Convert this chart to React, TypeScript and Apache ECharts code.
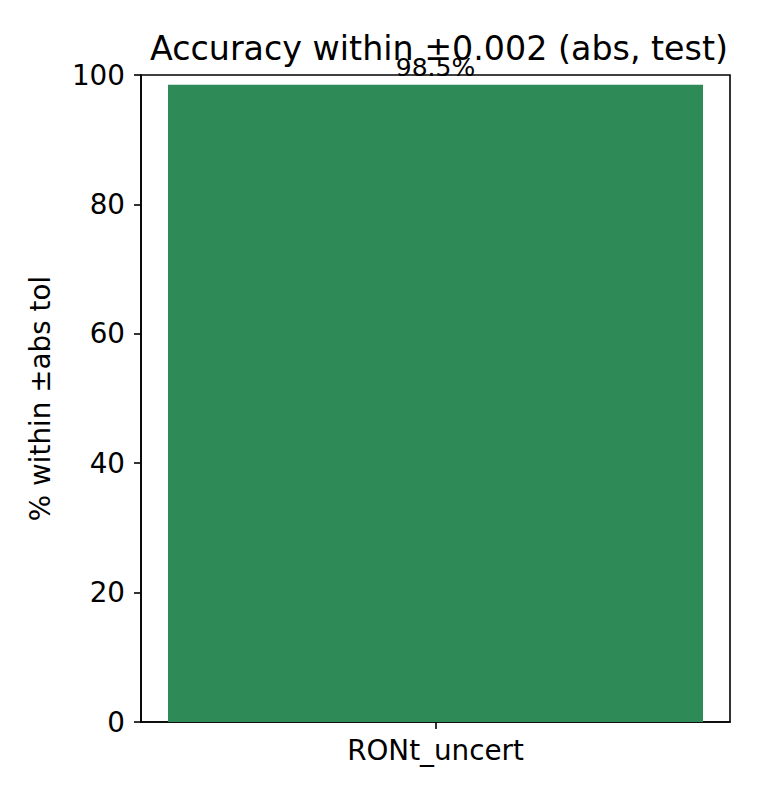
import React, { useEffect, useRef } from "react";
import * as echarts from "echarts";

const categories = ["RONt_uncert"];
const values = [98.5];
const yTicks = [0, 20, 40, 60, 80, 100];

export default function App() {
  const ref = useRef<HTMLDivElement>(null);
  useEffect(() => {
    if (!ref.current) return;
    const chart = echarts.init(ref.current, undefined, { renderer: "svg" });
    const font = "DejaVu Sans";
    chart.setOption({
      animation: false,
      backgroundColor: "#ffffff",
      title: {
        text: "Accuracy within ±0.002 (abs, test)",
        left: 434,
        textAlign: "center",
        top: 27,
        textStyle: { fontFamily: font, fontSize: 33.3, fontWeight: "normal", color: "#000" },
      },
      grid: {
        left: 141,
        top: 75,
        width: 589,
        height: 647,
        show: true,
        borderColor: "#000",
        borderWidth: 1.6,
        backgroundColor: "transparent",
      },
      xAxis: {
        type: "category",
        data: categories,
        axisLine: { show: true, lineStyle: { color: "#000", width: 1.6 } },
        axisTick: { show: true, alignWithLabel: true, length: 7, lineStyle: { color: "#000", width: 1.6 } },
        axisLabel: { fontFamily: font, fontSize: 27.8, color: "#000", margin: 14 },
      },
      yAxis: {
        type: "value",
        min: 0,
        max: 100,
        interval: 20,
        name: "% within ±abs tol",
        nameLocation: "middle",
        nameGap: 87,
        nameRotate: 90,
        nameTextStyle: { fontFamily: font, fontSize: 27.8, color: "#000" },
        axisLine: { show: true, lineStyle: { color: "#000", width: 1.6 } },
        axisTick: { show: true, length: 7, lineStyle: { color: "#000", width: 1.6 } },
        axisLabel: {
          fontFamily: font,
          fontSize: 27.8,
          color: "#000",
          margin: 16,
          formatter: (v: number) => (yTicks.includes(v) ? String(v) : ""),
        },
        splitLine: { show: false },
      },
      series: [
        {
          type: "bar",
          data: values,
          barWidth: 535,
          itemStyle: { color: "#2E8B57" },
          label: {
            show: true,
            position: "top",
            distance: 5,
            formatter: (p: any) => `${p.value.toFixed(1)}%`,
            fontFamily: font,
            fontSize: 25,
            color: "#000",
          },
        },
      ],
    });
    return () => chart.dispose();
  }, []);
  return (
    <div
      ref={ref}
      style={{ position: "fixed", left: 0, top: 0, width: 760, height: 800, background: "#fff" }}
    />
  );
}
